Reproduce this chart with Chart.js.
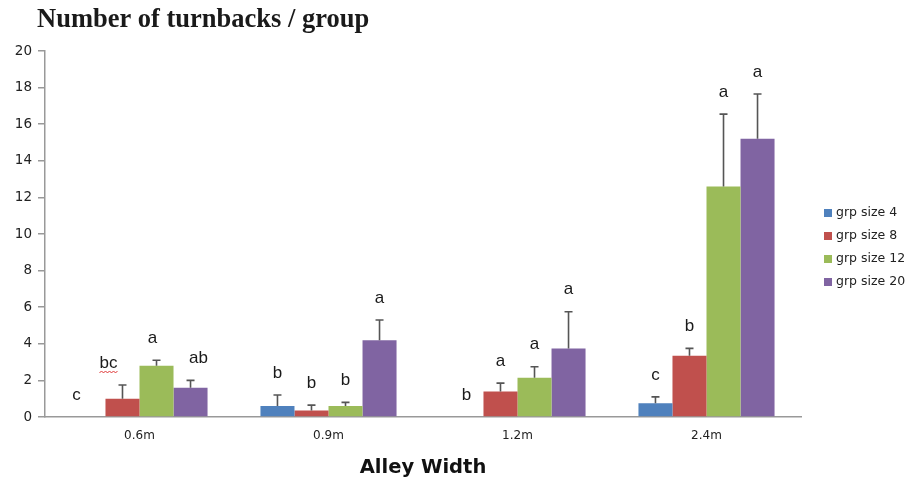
<!DOCTYPE html>
<html>
<head>
<meta charset="utf-8">
<script src="https://cdn.jsdelivr.net/npm/chart.js@4"></script>
<style>
  html, body { margin: 0; padding: 0; background: #fff; }
  #wrap { width: 910px; height: 483px; position: relative; }
</style>
</head>
<body>
<div id="wrap"><canvas id="c" width="910" height="483"></canvas></div>
<script>
// Alley widths tested
const categories = ['0.6m', '0.9m', '1.2m', '2.4m'];

// Mean number of turnbacks per group, by group size
const grpSize4  = [0,    0.6,  0,    0.75];
const grpSize8  = [1.0,  0.35, 1.4,  3.35];
const grpSize12 = [2.8,  0.6,  2.15, 12.6];
const grpSize20 = [1.6,  4.2,  3.75, 15.2];

// Upper error bars (standard error)
const errSize4  = [0,    0.6,  0,    0.35];
const errSize8  = [0.75, 0.3,  0.45, 0.4];
const errSize12 = [0.3,  0.2,  0.6,  3.95];
const errSize20 = [0.4,  1.1,  2.0,  2.45];

// Significance letters
const sigSize4  = ['c',  'b', 'b', 'c'];
const sigSize8  = ['bc', 'b', 'a', 'b'];
const sigSize12 = ['a',  'b', 'a', 'a'];
const sigSize20 = ['ab', 'a', 'a', 'a'];

// Y axis ticks
const yTicks = [0, 2, 4, 6, 8, 10, 12, 14, 16, 18, 20];

const seriesLabels = ['grp size 4', 'grp size 8', 'grp size 12', 'grp size 20'];
const seriesColors = ['#4F81BD', '#C0504D', '#9BBB59', '#8064A2'];
const seriesValues = [grpSize4, grpSize8, grpSize12, grpSize20];
const seriesErrors = [errSize4, errSize8, errSize12, errSize20];
const seriesLetters = [sigSize4, sigSize8, sigSize12, sigSize20];

// horizontal nudges (px) for the letters of the first group, which sit slightly off-centre
const letterShift = [[-12, 0, 0, 0], [-14, 0, 0, 0], [-4, 0, 0, 0], [8, 0, 0, 0]];

const datasets = seriesLabels.map((label, i) => ({
  label,
  data: seriesValues[i],
  errors: seriesErrors[i],
  letters: seriesLetters[i],
  backgroundColor: seriesColors[i],
  borderWidth: 0,
  categoryPercentage: 0.72,
  barPercentage: 1.0
}));

// Error bars (upward only) and letters above each bar
const annotatePlugin = {
  id: 'annotate',
  afterDatasetsDraw(chart) {
    const ctx = chart.ctx;
    const y = chart.scales.y;
    ctx.save();
    chart.data.datasets.forEach((ds, di) => {
      const meta = chart.getDatasetMeta(di);
      meta.data.forEach((bar, i) => {
        const v = ds.data[i];
        const e = ds.errors[i];
        const yBar = y.getPixelForValue(v);
        const yTop = y.getPixelForValue(v + e);
        if (e > 0) {
          ctx.strokeStyle = '#555';
          ctx.lineWidth = 1.6;
          ctx.beginPath();
          ctx.moveTo(bar.x, yBar);
          ctx.lineTo(bar.x, yTop);
          ctx.moveTo(bar.x - 4, yTop);
          ctx.lineTo(bar.x + 4, yTop);
          ctx.stroke();
        }
        const txt = ds.letters[i];
        const tx = bar.x + letterShift[di][i];
        const ty = yTop - 22;
        ctx.fillStyle = '#1a1a1a';
        ctx.font = '17px "Liberation Sans", Arial, sans-serif';
        ctx.textAlign = 'center';
        ctx.textBaseline = 'middle';
        ctx.fillText(txt, tx, ty);
        if (txt === 'bc') {
          // spell-check squiggle under "bc"
          const w = ctx.measureText(txt).width;
          const x0 = tx - w / 2, yy = ty + 9;
          ctx.strokeStyle = '#d33';
          ctx.lineWidth = 1;
          ctx.beginPath();
          for (let k = 0; k <= Math.ceil(w / 2); k++) {
            const px = x0 + k * 2;
            const py = yy + (k % 2 ? -1 : 1);
            if (k === 0) ctx.moveTo(px, py); else ctx.lineTo(px, py);
          }
          ctx.stroke();
        }
      });
    });
    ctx.restore();
  },
  afterDraw(chart) {
    const ctx = chart.ctx;
    ctx.save();
    // Title
    ctx.fillStyle = '#1a1a1a';
    ctx.font = 'bold 26.5px "Liberation Serif", "Times New Roman", serif';
    ctx.textAlign = 'left';
    ctx.textBaseline = 'middle';
    ctx.fillText('Number of turnbacks / group', 37, 20);
    // Legend
    ctx.font = '12.5px "DejaVu Sans", Verdana, sans-serif';
    chart.data.datasets.forEach((ds, i) => {
      const cy = 213 + i * 23;
      ctx.fillStyle = ds.backgroundColor;
      ctx.fillRect(824, cy - 4, 8, 8);
      ctx.fillStyle = '#222';
      ctx.fillText(ds.label, 836, cy);
    });
    ctx.restore();
  }
};

new Chart(document.getElementById('c'), {
  type: 'bar',
  data: { labels: categories, datasets },
  options: {
    responsive: false,
    animation: false,
    layout: { padding: { left: 0, top: 51, right: 109, bottom: 0 } },
    plugins: { legend: { display: false }, tooltip: { enabled: false } },
    scales: {
      x: {
        grid: { display: false, drawTicks: false },
        border: { color: '#999', width: 1.5 },
        ticks: { color: '#222', padding: 12, font: { family: '"DejaVu Sans", Verdana, sans-serif', size: 12 } },
        title: {
          display: true,
          text: 'Alley Width',
          color: '#111',
          font: { family: '"DejaVu Sans", Verdana, sans-serif', size: 19.5, weight: 'bold' },
          padding: { top: 0, bottom: 3 }
        },
        afterFit(scale) { scale.height = 66; }
      },
      y: {
        min: 0,
        max: 20,
        afterBuildTicks(scale) { scale.ticks = yTicks.map(v => ({ value: v })); },
        grid: { drawOnChartArea: false, drawTicks: true, tickLength: 7, color: '#999', lineWidth: 1.5 },
        border: { color: '#999', width: 1.5 },
        ticks: { color: '#222', padding: 6, font: { family: '"DejaVu Sans", Verdana, sans-serif', size: 13.5 } },
        afterFit(scale) { scale.width = 45; }
      }
    }
  },
  plugins: [annotatePlugin]
});
</script>
</body>
</html>
